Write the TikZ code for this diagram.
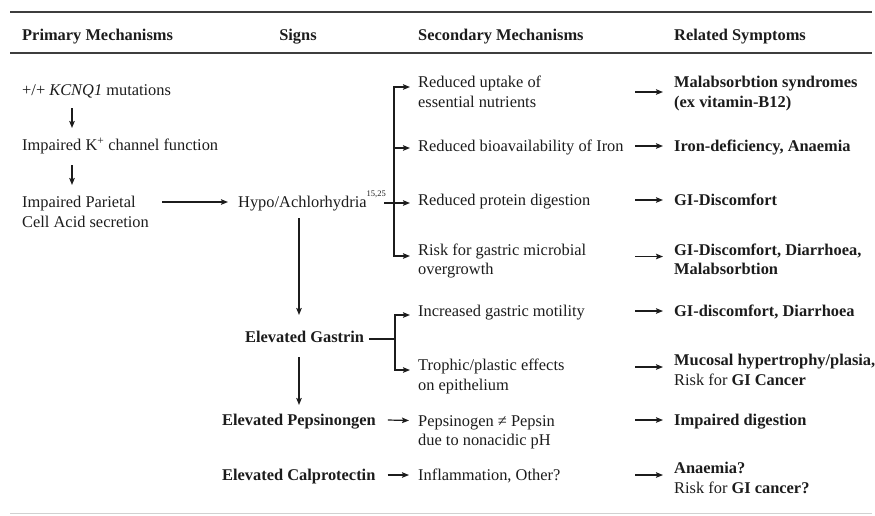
\documentclass[tikz,border=0pt]{standalone}
\usepackage{fontspec}
\setmainfont{Liberation Serif}
\usetikzlibrary{arrows.meta}
\definecolor{ink}{RGB}{28,28,28}
\newcommand\mainsz{\fontsize{16.4pt}{19.5pt}\selectfont}
\tikzset{
  txt/.style={anchor=base west, inner sep=0pt, align=left, font=\mainsz, text=ink},
  btxt/.style={txt, font=\mainsz\bfseries},
  arr/.style={draw=ink, line width=1.2pt, -{Stealth[length=7pt,width=5.5pt,inset=1.2pt]}},
  ln/.style={draw=ink, line width=1.2pt},
  rulel/.style={draw=ink!85, line width=1.6pt}
}
\begin{document}
\begin{tikzpicture}[x=1pt,y=-1pt]
\useasboundingbox (0,0) rectangle (875,515);
% rules
\coordinate (r1a) at (10,12);  \coordinate (r1b) at (872,12);
\coordinate (r2a) at (10,53);  \coordinate (r2b) at (872,53);
\coordinate (r3a) at (10,513); \coordinate (r3b) at (872,513);
\draw[rulel] (r1a) -- (r1b);
\draw[rulel, line width=1.3pt] (r2a) -- (r2b);
\draw[draw=black!18, line width=1pt] (r3a) -- (r3b);
% headers
\node[btxt] (h1) at (22,40) {Primary Mechanisms};
\node[btxt, anchor=base] (h2) at (298,40) {Signs};
\node[btxt] (h3) at (418,40) {Secondary Mechanisms};
\node[btxt] (h4) at (674,40) {Related Symptoms};
% primary mechanisms (multi-line nodes: base = last line)
\node[txt] (kcnq) at (22,95.5) {+/+ \textit{KCNQ1} mutations};
\node[txt] (kch) at (22,150.5) {Impaired K\smash{\textsuperscript{+}} channel function};
\node[txt] (par) at (22,227) {Impaired Parietal\\Cell Acid secretion};
% signs
\node[txt] (hypo) at (238,207.5) {Hypo/Achlorhydria\smash{\raisebox{11pt}{\fontsize{8.5pt}{8.5pt}\selectfont 15,25}}};
\node[btxt] (gas) at (245,342.5) {Elevated Gastrin};
\node[btxt] (pep) at (222,425.5) {Elevated Pepsinongen};
\node[btxt] (cal) at (222,480.5) {Elevated Calprotectin};
% secondary mechanisms
\node[txt] (s1) at (418,107) {Reduced uptake of\\essential nutrients};
\node[txt] (s2) at (418,151.5) {Reduced bioavailability of Iron};
\node[txt] (s3) at (418,205.5) {Reduced protein digestion};
\node[txt] (s4) at (418,274.5) {Risk for gastric microbial\\overgrowth};
\node[txt] (s5) at (418,316.5) {Increased gastric motility};
\node[txt] (s6) at (418,390) {Trophic/plastic effects\\on epithelium};
\node[txt] (s7) at (418,445.5) {Pepsinogen ≠ Pepsin\\due to nonacidic pH};
\node[txt] (s8) at (418,480.5) {Inflammation, Other?};
% related symptoms
\node[btxt] (y1) at (674,107) {Malabsorbtion syndromes\\(ex vitamin-B12)};
\node[btxt] (y2) at (674,151.5) {Iron-deficiency, Anaemia};
\node[btxt] (y3) at (674,205.5) {GI-Discomfort};
\node[btxt] (y4) at (674,274.5) {GI-Discomfort, Diarrhoea,\\Malabsorbtion};
\node[btxt] (y5) at (674,316.5) {GI-discomfort, Diarrhoea};
\node[txt] (y6) at (674,385) {\textbf{Mucosal hypertrophy/plasia,}\\Risk for \textbf{GI Cancer}};
\node[btxt] (y7) at (674,425.5) {Impaired digestion};
\node[txt] (y8) at (674,493) {\textbf{Anaemia?}\\Risk for \textbf{GI cancer?}};
% primary chain
\draw[arr] ([xshift=50pt,yshift=-12.5pt]kcnq.base west) -- ([xshift=50pt,yshift=22.5pt]kch.base west);
\draw[arr] ([xshift=50pt,yshift=-14.5pt]kch.base west) -- ([xshift=50pt,yshift=42pt]par.base west);
\draw[arr] ([xshift=140pt,yshift=25pt]par.base west) -- ([xshift=-10pt,yshift=5.5pt]hypo.base west);
% hypo bracket
\coordinate (hub) at (394,203);
\draw[ln] ([xshift=146pt,yshift=4.5pt]hypo.base west) -- (hub);
\draw[arr] (hub) |- ([xshift=-8pt,yshift=20pt]s1.base west);
\draw[arr] (hub) |- ([xshift=-8pt,yshift=3.5pt]s2.base west);
\draw[arr] (hub) -- ([xshift=-8pt,yshift=2.5pt]s3.base west);
\draw[arr] (hub) |- ([xshift=-8pt,yshift=18.5pt]s4.base west);
% signs chain
\draw[arr] ([xshift=61pt,yshift=-10.5pt]hypo.base west) -- ([xshift=54pt,yshift=27.5pt]gas.base west);
\draw[arr] ([xshift=54pt,yshift=-14.5pt]gas.base west) -- ([xshift=77pt,yshift=20.5pt]pep.base west);
% gastrin bracket
\coordinate (ghub) at (395,339);
\draw[ln] ([xshift=5pt,yshift=3.5pt]gas.base east) -- (ghub);
\draw[arr] (ghub) |- ([xshift=-8pt,yshift=1.5pt]s5.base west);
\draw[arr] (ghub) |- ([xshift=-8pt,yshift=20pt]s6.base west);
% pepsinogen, calprotectin
\draw[arr] ([xshift=12pt,yshift=5.5pt]pep.base east) -- ([xshift=-9pt,yshift=25pt]s7.base west);
\draw[arr] ([xshift=12pt,yshift=5.5pt]cal.base east) -- ([xshift=-9pt,yshift=5.5pt]s8.base west);
% symptom arrows
\draw[arr] ([xshift=-39pt,yshift=15pt]y1.base west) -- ([xshift=-11pt,yshift=15pt]y1.base west);
\draw[arr] ([xshift=-39pt,yshift=5.5pt]y2.base west) -- ([xshift=-11pt,yshift=5.5pt]y2.base west);
\draw[arr] ([xshift=-39pt,yshift=5.5pt]y3.base west) -- ([xshift=-11pt,yshift=5.5pt]y3.base west);
\draw[arr] ([xshift=-39pt,yshift=18pt]y4.base west) -- ([xshift=-11pt,yshift=18pt]y4.base west);
\draw[arr] ([xshift=-39pt,yshift=5.5pt]y5.base west) -- ([xshift=-11pt,yshift=5.5pt]y5.base west);
\draw[arr] ([xshift=-39pt,yshift=18pt]y6.base west) -- ([xshift=-11pt,yshift=18pt]y6.base west);
\draw[arr] ([xshift=-39pt,yshift=5.5pt]y7.base west) -- ([xshift=-11pt,yshift=5.5pt]y7.base west);
\draw[arr] ([xshift=-39pt,yshift=18pt]y8.base west) -- ([xshift=-11pt,yshift=18pt]y8.base west);
\end{tikzpicture}
\end{document}
